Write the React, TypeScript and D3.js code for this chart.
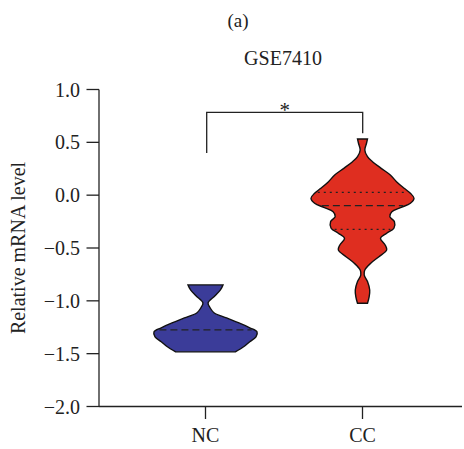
import React from "react";
import * as d3 from "d3";

const categories = ["NC", "CC"];
const yTicks = [1.0, 0.5, 0.0, -0.5, -1.0, -1.5, -2.0];

// violin outline profiles: [value, relative half-width]
const ncProfile: [number, number][] = [
  [-0.849, 0.34], [-0.897, 0.29], [-0.954, 0.18], [-1.02, 0.05], [-1.067, 0.09],
  [-1.115, 0.17], [-1.162, 0.41], [-1.209, 0.65], [-1.255, 0.86], [-1.293, 1.0],
  [-1.34, 0.98], [-1.387, 0.86], [-1.435, 0.74], [-1.483, 0.58],
];
const ccProfile: [number, number][] = [
  [0.532, 0.097], [0.491, 0.078], [0.428, 0.045], [0.364, 0.097], [0.317, 0.194],
  [0.254, 0.363], [0.191, 0.54], [0.128, 0.66], [0.065, 0.81], [0.018, 0.93],
  [-0.029, 1.0], [-0.077, 0.93], [-0.118, 0.74], [-0.156, 0.57], [-0.203, 0.53],
  [-0.251, 0.62], [-0.313, 0.61], [-0.36, 0.47], [-0.408, 0.35], [-0.471, 0.44],
  [-0.518, 0.47], [-0.582, 0.32], [-0.644, 0.16], [-0.708, 0.045], [-0.755, 0.033],
  [-0.818, 0.097], [-0.897, 0.14], [-0.96, 0.13], [-1.023, 0.097],
];
const ncMedian = [-1.275];
const ccQuartiles = [0.027, -0.323];
const ccMedian = [-0.099];
const colors = ["#3b3c99", "#df2e20"];

const FONT = "'Liberation Serif', 'Times New Roman', serif";

export default function App() {
  const W = 464, H = 449;
  const y = d3.scaleLinear().domain([-2, 1]).range([406.5, 89.5]);
  const x = d3.scalePoint<string>().domain(categories).range([205.5, 362.5]);
  const w = d3.scaleLinear().domain([0, 1]).range([0, 51.5]);
  const axisX = 99;
  const axisRight = 462;

  const profiles = [ncProfile, ccProfile];

  const halfWidthAt = (prof: [number, number][], v: number) => {
    for (let i = 0; i < prof.length - 1; i++) {
      const [v0, r0] = prof[i];
      const [v1, r1] = prof[i + 1];
      if ((v <= v0 && v >= v1)) {
        const t = (v - v0) / (v1 - v0);
        return r0 + t * (r1 - r0);
      }
    }
    return 0;
  };

  const violin = (cat: string, prof: [number, number][]) => {
    const cx = x(cat)!;
    const area = d3
      .area<[number, number]>()
      .y((d) => y(d[0]))
      .x0((d) => cx - w(d[1]))
      .x1((d) => cx + w(d[1]))
      .curve(d3.curveCatmullRom);
    return area(prof) || "";
  };

  const lines: { cat: string; prof: [number, number][]; v: number; dash: string }[] = [
    ...ncMedian.map((v) => ({ cat: "NC", prof: ncProfile, v, dash: "7,4" })),
    ...ccMedian.map((v) => ({ cat: "CC", prof: ccProfile, v, dash: "7,4" })),
    ...ccQuartiles.map((v) => ({ cat: "CC", prof: ccProfile, v, dash: "2,4" })),
  ];

  const bx0 = x("NC")! + 1.2;
  const bx1 = x("CC")! + 0.2;
  const by = 112.3;
  const fs = 20;

  return (
    <svg width={W} height={H} style={{ display: "block", position: "absolute", left: 0, top: 0 }}>
      <rect width={W} height={H} fill="#fff" />
      <text x={238} y={27} fontFamily={FONT} fontSize={19} textAnchor="middle" fill="#222">(a)</text>
      <text x={283} y={65} fontFamily={FONT} fontSize={20} textAnchor="middle" fill="#222">GSE7410</text>

      {categories.map((c, i) => (
        <path key={c} d={violin(c, profiles[i])} fill={colors[i]} stroke="#111" strokeWidth={1.4} />
      ))}
      {lines.map((l, i) => {
        const cx = x(l.cat)!;
        const hw = w(halfWidthAt(l.prof, l.v)) - 2;
        return (
          <line key={i} x1={cx - hw} x2={cx + hw} y1={y(l.v)} y2={y(l.v)}
            stroke="#222" strokeWidth={1.3} strokeDasharray={l.dash} />
        );
      })}

      {/* significance bracket */}
      <path d={`M${bx0},153 V${by} H${bx1} V133.3`} fill="none" stroke="#222" strokeWidth={1.3} />
      <text x={(bx0 + bx1) / 2} y={117} fontFamily={FONT} fontSize={21} textAnchor="middle" fill="#222">*</text>

      {/* y axis */}
      <line x1={axisX} x2={axisX} y1={y(1)} y2={y(-2)} stroke="#222" strokeWidth={1.3} />
      {yTicks.map((t) => (
        <g key={t}>
          <line x1={axisX - 12.5} x2={axisX} y1={y(t)} y2={y(t)} stroke="#222" strokeWidth={1.3} />
          <text x={80} y={y(t)} dy="0.35em" fontFamily={FONT} fontSize={fs} textAnchor="end" fill="#222">
            {t < 0 ? "\u2212" + Math.abs(t).toFixed(1) : t.toFixed(1)}
          </text>
        </g>
      ))}
      <text transform={`translate(25,${(y(1) + y(-2)) / 2}) rotate(-90)`} fontFamily={FONT} fontSize={fs}
        textAnchor="middle" fill="#222">Relative mRNA level</text>

      {/* x axis */}
      <line x1={axisX} x2={axisRight} y1={y(-2)} y2={y(-2)} stroke="#222" strokeWidth={1.3} />
      {categories.map((c) => (
        <g key={c}>
          <line x1={x(c)!} x2={x(c)!} y1={y(-2)} y2={y(-2) + 12.5} stroke="#222" strokeWidth={1.3} />
          <text x={x(c)!} y={442} fontFamily={FONT} fontSize={fs} textAnchor="middle" fill="#222">{c}</text>
        </g>
      ))}
    </svg>
  );
}
